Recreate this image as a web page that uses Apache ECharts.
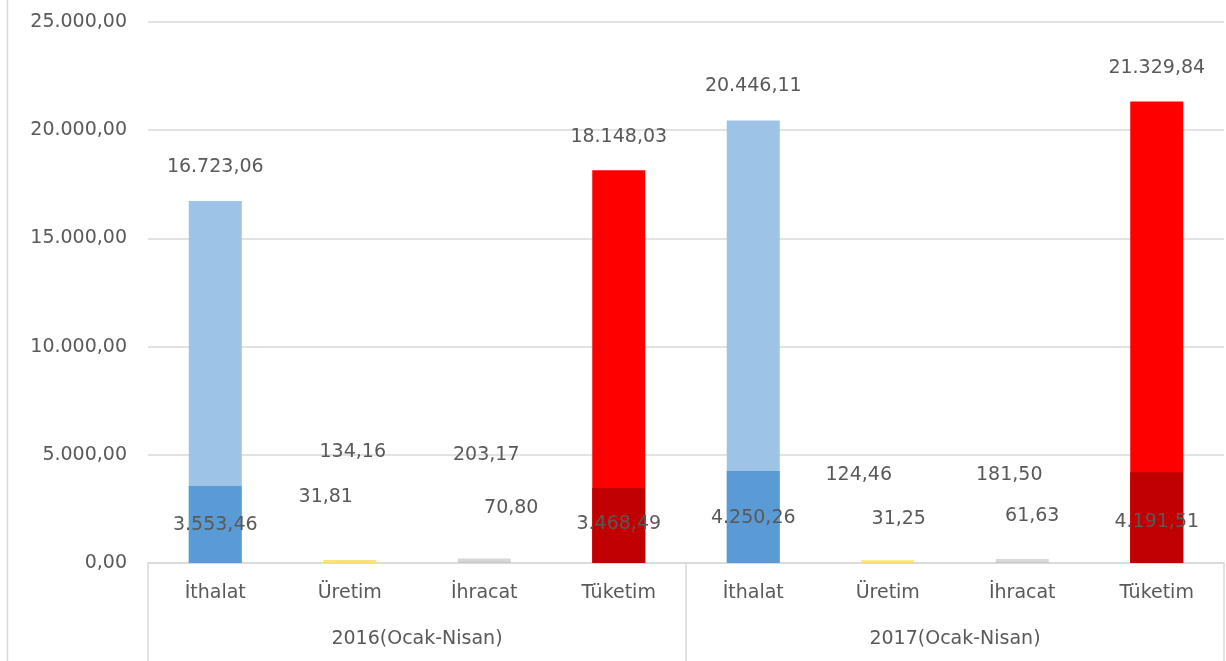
<!DOCTYPE html>
<html>
<head>
<meta charset="utf-8">
<script src="https://cdn.jsdelivr.net/npm/echarts@6/dist/echarts.min.js"></script>
<style>html,body{margin:0;padding:0;background:#fff}#c{width:1226px;height:661px}</style>
</head>
<body>
<div id="c"></div>
<script>
// ---- data ----
var categories = ['İthalat', 'Üretim', 'İhracat', 'Tüketim', 'İthalat', 'Üretim', 'İhracat', 'Tüketim'];
var groups = ['2016(Ocak-Nisan)', '2017(Ocak-Nisan)'];
var totalValues = [16723.06, 134.16, 203.17, 18148.03, 20446.11, 124.46, 181.50, 21329.84];
var partValues = [3553.46, 31.81, 70.80, 3468.49, 4250.26, 31.25, 61.63, 4191.51];
var yTicks = { min: 0, max: 25000, interval: 5000 };

// ---- styles ----
var lightColors = ['#9DC3E6', '#FFE083', '#D9D9D9', '#FF0000'];
var darkColors = ['#5B9BD5', '#FFD966', '#C9C9C9', '#C00000'];
// manual label nudges (pixels) mimicking the reference's hand-placed labels
var totalLabelNudge = [[0,-25],[3,-99],[2,-94],[0,-24],[0,-25],[-29,-76],[-13,-75],[0,-24]];
var partLabelNudge = [[0,48],[-24,-56],[27,-44],[0,46],[0,57],[11,-34],[10,-36],[0,59]];

var FONT = 'DejaVu Sans';
var TXT = '#595959';
var GRID = '#D9D9D9';

function trFormat(v) {
  var parts = v.toFixed(2).split('.');
  var intPart = parts[0].replace(/\B(?=(\d{3})+(?!\d))/g, '.');
  return intPart + ',' + parts[1];
}

function buildData(values, nudges) {
  return values.map(function (v, i) {
    return { value: v, label: { offset: nudges[i] } };
  });
}

var chart = echarts.init(document.getElementById('c'), null, { renderer: 'canvas' });
chart.setOption({
  animation: false,
  backgroundColor: '#fff',
  grid: { left: 148, right: 2, top: 22, bottom: 98, containLabel: false },
  graphic: [{
    type: 'line', shape: { x1: 7.5, y1: 0, x2: 7.5, y2: 661 },
    style: { stroke: GRID, lineWidth: 1.5 }, silent: true
  }],
  xAxis: [{
    type: 'category', data: categories, position: 'bottom',
    axisLine: { show: true, lineStyle: { color: GRID, width: 1.5 } },
    axisTick: { show: false },
    axisLabel: { color: TXT, fontFamily: FONT, fontSize: 19, margin: 21, interval: 0 },
    splitLine: { show: false }
  }, {
    type: 'category', data: groups, position: 'bottom',
    axisLine: { show: false },
    axisTick: { show: true, length: 98, interval: 0, lineStyle: { color: GRID, width: 1.5 } },
    axisLabel: { color: TXT, fontFamily: FONT, fontSize: 19, margin: 67, interval: 0 },
    splitLine: { show: false }
  }],
  yAxis: {
    type: 'value', min: yTicks.min, max: yTicks.max, interval: yTicks.interval,
    axisLine: { show: false }, axisTick: { show: false },
    axisLabel: { color: TXT, fontFamily: FONT, fontSize: 19, margin: 21, formatter: trFormat },
    splitLine: { lineStyle: { color: GRID, width: 1.5 } }
  },
  series: [{
    name: 'Toplam', type: 'bar', xAxisIndex: 0, barWidth: 53, barGap: '-100%',
    data: buildData(totalValues, totalLabelNudge),
    itemStyle: { color: function (p) { return lightColors[p.dataIndex % 4]; } },
    label: {
      show: true, position: 'top', distance: 0, color: TXT, fontFamily: FONT, fontSize: 19,
      formatter: function (p) { return trFormat(p.value); }
    }
  }, {
    name: 'Kısım', type: 'bar', xAxisIndex: 0, barWidth: 53, barGap: '-100%',
    data: buildData(partValues, partLabelNudge),
    itemStyle: { color: function (p) { return darkColors[p.dataIndex % 4]; } },
    label: {
      show: true, position: 'top', distance: 0, color: TXT, fontFamily: FONT, fontSize: 19,
      formatter: function (p) { return trFormat(p.value); }
    }
  }]
});
</script>
</body>
</html>
